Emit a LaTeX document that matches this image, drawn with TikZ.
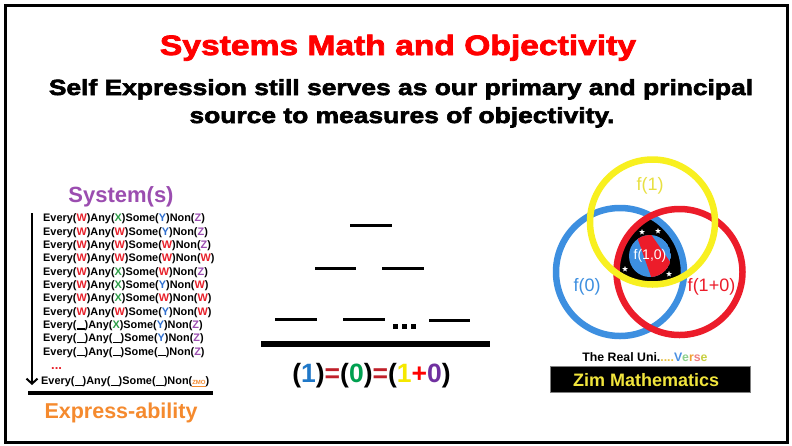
\documentclass[tikz,border=0pt]{standalone}
\usepackage{fontspec}
\setmainfont{Liberation Sans}
\newfontfamily\blackfont[FakeStretch=1.2,FakeBold=2.8]{Liberation Sans Bold}
\usetikzlibrary{arrows.meta,shapes.geometric}
\definecolor{wred}{HTML}{E8202A}
\definecolor{xgreen}{HTML}{2E9E48}
\definecolor{yblue}{HTML}{2E6FD0}
\definecolor{zpurple}{HTML}{9B4DB0}
\definecolor{sysp}{HTML}{9B4DB0}
\definecolor{exorange}{HTML}{F58A2E}
\definecolor{eqblue}{HTML}{1F78C8}
\definecolor{eqred}{HTML}{C0202A}
\definecolor{eqgreen}{HTML}{00A050}
\definecolor{eqyellow}{HTML}{F5E800}
\definecolor{eqplus}{HTML}{FF0000}
\definecolor{eqpurple}{HTML}{7030A0}
\definecolor{cblue}{HTML}{3D8FE0}
\definecolor{cred}{HTML}{EC1C2A}
\definecolor{cyellow}{HTML}{F8F020}
\definecolor{ftyellow}{HTML}{E8E040}
\definecolor{zimy}{HTML}{F0E43C}
\definecolor{dotc}{HTML}{E8C040}
\definecolor{vV}{HTML}{4A90E2}
\definecolor{vE}{HTML}{8CD08C}
\definecolor{vR}{HTML}{F0A030}
\definecolor{vS}{HTML}{F08080}
\definecolor{vY}{HTML}{C8D040}
\newcommand\cW{\textcolor{wred}{W}}
\newcommand\cX{\textcolor{xgreen}{X}}
\newcommand\cY{\textcolor{yblue}{Y}}
\newcommand\cZ{\textcolor{zpurple}{Z}}
\newcommand\blnk{\rule[-0.12em]{0.75em}{0.11em}}
\newcommand\sysrow[4]{Every(#1)Any(#2)Some(#3)Non(#4)}
\tikzset{
  rowtxt/.style={anchor=base west,inner sep=0pt,font=\bfseries\fontsize{10.9}{12}\selectfont},
  dashbar/.style={line width=3pt},
  ring/.style={line width=6.5pt},
  wstar/.style={star,star points=5,star point ratio=2.4,fill=white,inner sep=0pt,minimum size=6pt},
  fl/.style={anchor=base,inner sep=0pt,font=\fontsize{18}{20}\selectfont}
}
\begin{document}
\begin{tikzpicture}[x=1pt,y=-1pt]
\useasboundingbox (0,0) rectangle (792,445);
\fill[white] (0,0) rectangle (792,445);
\draw[line width=3pt] (5,5) rectangle (787,442);

% titles
\node[anchor=base,inner sep=0pt,text=red,font=\blackfont\fontsize{28}{32}\selectfont] (title) at (398,55) {Systems Math and Objectivity};
\node[anchor=base,inner sep=0pt,font=\blackfont\fontsize{22}{26}\selectfont] (sub1) at (401,95) {Self Expression still serves as our primary and principal};
\node[anchor=base,inner sep=0pt,font=\blackfont\fontsize{22}{26}\selectfont] (sub2) at (402,123) {source to measures of objectivity.};

% left panel
\node[anchor=base,inner sep=0pt,text=sysp,font=\bfseries\fontsize{22}{24}\selectfont] (sys) at (121,202) {System(s)};
\node[rowtxt] (r1) at (43,221.7) {\sysrow{\cW}{\cX}{\cY}{\cZ}};
\node[rowtxt] (r2) at (43,235.0) {\sysrow{\cW}{\cW}{\cY}{\cZ}};
\node[rowtxt] (r3) at (43,248.3) {\sysrow{\cW}{\cW}{\cW}{\cZ}};
\node[rowtxt] (r4) at (43,261.7) {\sysrow{\cW}{\cW}{\cW}{\cW}};
\node[rowtxt] (r5) at (43,275.0) {\sysrow{\cW}{\cX}{\cW}{\cZ}};
\node[rowtxt] (r6) at (43,288.3) {\sysrow{\cW}{\cX}{\cY}{\cW}};
\node[rowtxt] (r7) at (43,301.7) {\sysrow{\cW}{\cX}{\cW}{\cW}};
\node[rowtxt] (r8) at (43,315.0) {\sysrow{\cW}{\cW}{\cY}{\cW}};
\node[rowtxt] (r9) at (43,328.3) {\sysrow{\blnk}{\cX}{\cY}{\cZ}};
\node[rowtxt] (r10) at (43,341.7) {\sysrow{\blnk}{\blnk}{\cY}{\cZ}};
\node[rowtxt] (r11) at (43,355.0) {\sysrow{\blnk}{\blnk}{\blnk}{\cZ}};
\node[rowtxt,text=wred,font=\bfseries\fontsize{13}{14}\selectfont] (rdots) at (51,369) {...};
\node[rowtxt] (r13) at (41,384.5) {\sysrow{\blnk}{\blnk}{\blnk}{\textcolor{exorange}{\fontsize{6}{7}\selectfont\underline{ZMO}}}};
\coordinate (atop) at (32,213);
\coordinate (abot) at (32,385);
\draw[line width=2pt,-{Straight Barb[length=5pt,width=11pt,line width=2pt]}] (atop) -- (abot);
\coordinate (barl) at (28,393);
\coordinate (barr) at (213,393);
\draw[line width=3.5pt] (barl) -- (barr);
\node[anchor=base,inner sep=0pt,text=exorange,font=\bfseries\fontsize{21.5}{24}\selectfont] (expr) at (121,418) {Express-ability};

% middle panel
\coordinate (m1a) at (350,225); \coordinate (m1b) at (392,225);
\coordinate (m2a) at (315,268); \coordinate (m2b) at (356,268);
\coordinate (m3a) at (382,268); \coordinate (m3b) at (424,268);
\coordinate (m4a) at (275,319); \coordinate (m4b) at (317,319);
\coordinate (m5a) at (343,319); \coordinate (m5b) at (385,319);
\coordinate (m6a) at (429,320); \coordinate (m6b) at (470,320);
\foreach \a/\b in {m1a/m1b,m2a/m2b,m3a/m3b,m4a/m4b,m5a/m5b,m6a/m6b}
  \draw[dashbar] (\a) -- (\b);
\foreach \x in {395.8,404.5,413.2}
  \fill (\x-2.5,323.5) rectangle (\x+2.5,328.5);
\coordinate (basel) at (261,344);
\coordinate (baser) at (490,344);
\draw[line width=6pt] (basel) -- (baser);
\node[anchor=base,inner sep=0pt,font=\bfseries\fontsize{26.5}{28}\selectfont] (eq) at (371.5,382)
  {(\textcolor{eqblue}{1})\textcolor{eqred}{=}(\textcolor{eqgreen}{0})\textcolor{eqred}{=}(\textcolor{eqyellow}{1}\textcolor{eqplus}{+}\textcolor{eqpurple}{0})};

% right panel: Venn
\begin{scope}
  \clip (620,272) circle (64pt);
  \clip (679.5,272) circle (63pt);
  \fill[black] (652.5,222) circle (62.5pt);
\end{scope}
\begin{scope}
  \clip (650,256) circle (21pt);
  \fill[cblue] (650,256) circle (21pt);
  \fill[cred] (636,234) -- (650,233) -- (673,266) -- (673,285) -- (654,285) -- cycle;
\end{scope}
\node[inner sep=0pt,text=white,font=\fontsize{14}{15}\selectfont] (f10) at (650,256) {f(1,0)};
\node[wstar] (s1) at (642,232) {};
\node[wstar] (s2) at (658,231) {};
\node[wstar] (s3) at (625,269) {};
\node[wstar] (s4) at (669,274) {};
\draw[ring,cblue] (620,272) circle (64pt);
\draw[ring,cred] (679.5,272) circle (63pt);
\draw[ring,cyellow] (652.5,222) circle (62.5pt);
\node[fl,text=ftyellow] (f1) at (650,190) {f(1)};
\node[fl,text=cblue] (f0) at (587,291) {f(0)};
\node[fl,text=cred] (f1p0) at (711.5,291) {f(1+0)};

\node[anchor=base,inner sep=0pt,font=\bfseries\fontsize{12.3}{13}\selectfont] (verse) at (645,361.5)
  {The Real Uni.\textcolor{dotc}{....}\textcolor{vV}{V}\textcolor{vE}{e}\textcolor{vR}{r}\textcolor{vS}{s}\textcolor{vY}{e}};
\draw[fill=black,draw=gray,line width=1pt] (550,366) rectangle (750,392);
\node[anchor=base west,inner sep=0pt,text=zimy,font=\bfseries\fontsize{18}{20}\selectfont] (zim) at (573,386) {Zim Mathematics};
\end{tikzpicture}
\end{document}
